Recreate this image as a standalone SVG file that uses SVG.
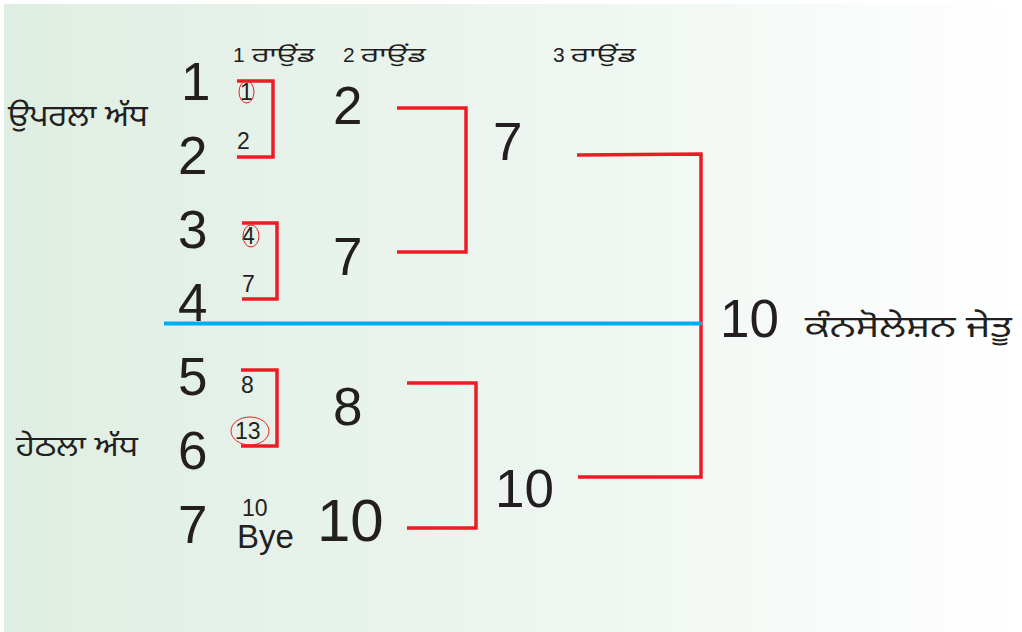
<svg xmlns="http://www.w3.org/2000/svg" width="1022" height="632" viewBox="0 0 1022 632">
<defs>
<linearGradient id="bg" x1="0" y1="0" x2="1" y2="0">
<stop offset="0" stop-color="#dfeee3"/>
<stop offset="0.5" stop-color="#ecf5ef"/>
<stop offset="1" stop-color="#ffffff"/>
</linearGradient>
<style>
text{font-family:"Liberation Sans","Noto Sans Gurmukhi","Noto Sans",sans-serif;fill:#231f20}
.big{font-size:53px}
.sm{font-size:23px}
.hd{font-size:21px}
.pa{font-family:"Noto Sans Gurmukhi","Lohit Gurmukhi","Noto Sans","Liberation Sans",sans-serif}
.br{fill:none;stroke:#ed1c24;stroke-width:3.5}
.ring{fill:none;stroke:#ed1c24;stroke-width:1}
</style>
</defs>
<rect x="0" y="0" width="1022" height="632" fill="#ffffff"/>
<rect x="4" y="4" width="1018" height="628" fill="url(#bg)"/>

<g id="headers">
<text x="233" y="62" class="hd">1</text>
<text x="252" y="62" class="hd pa" font-size="24" textLength="63" lengthAdjust="spacingAndGlyphs">ਰਾਉਂਡ</text>
<text x="343" y="62" class="hd">2</text>
<text x="361" y="62" class="hd pa" font-size="24" textLength="65" lengthAdjust="spacingAndGlyphs">ਰਾਉਂਡ</text>
<text x="553" y="62" class="hd">3</text>
<text x="571" y="62" class="hd pa" font-size="24" textLength="65" lengthAdjust="spacingAndGlyphs">ਰਾਉਂਡ</text>
</g>
<g id="halves">
<text x="8" y="126" class="pa" font-size="30" textLength="140" lengthAdjust="spacingAndGlyphs">ਉਪਰਲਾ  ਅੱਧ</text>
<text x="16" y="456" class="pa" font-size="28" textLength="122" lengthAdjust="spacingAndGlyphs">ਹੇਠਲਾ ਅੱਧ</text>
</g>
<g id="seeds">
<text x="181" y="100" class="big">1</text>
<text x="178" y="174" class="big">2</text>
<text x="178" y="248" class="big">3</text>
<text x="178" y="321" class="big">4</text>
<text x="178" y="395" class="big">5</text>
<text x="178" y="469" class="big">6</text>
<text x="178" y="543" class="big">7</text>
</g>
<g id="round1">
<text x="240" y="100" class="sm">1</text>
<ellipse cx="246.5" cy="92" rx="7.5" ry="11" class="ring"/>
<text x="237" y="149" class="sm">2</text>
<text x="242" y="244" class="sm">4</text>
<ellipse cx="251" cy="236" rx="8" ry="11" class="ring"/>
<text x="242" y="292" class="sm">7</text>
<text x="241" y="393" class="sm">8</text>
<text x="235" y="439" class="sm">13</text>
<ellipse cx="250" cy="431" rx="19" ry="14" class="ring"/>
<text x="242" y="516" class="sm">10</text>
<text x="237" y="548" font-size="33">Bye</text>
</g>
<g id="round2">
<text x="333" y="124" class="big">2</text>
<text x="333" y="275" class="big">7</text>
<text x="333" y="425" class="big">8</text>
<text x="317" y="541" font-size="60">10</text>
</g>
<g id="round3">
<text x="493" y="160" class="big">7</text>
<text x="495" y="507" class="big">10</text>
</g>
<g id="winner">
<text x="720" y="337" class="big">10</text>
<text x="805" y="337" class="pa" font-size="30" textLength="207" lengthAdjust="spacingAndGlyphs">ਕੰਨਸੋਲੇਸ਼ਨ  ਜੇਤੂ</text>
</g>
<g id="connectors">
<polyline points="237,81 273,81 273,157 237,157" class="br"/>
<polyline points="242,223 277,223 277,299 242,299" class="br"/>
<polyline points="241,370 277,370 277,446 241,446" class="br"/>
<polyline points="397,108 466,108 466,252 397,252" class="br"/>
<polyline points="407,383 476,383 476,528 407,528" class="br"/>
<polyline points="577,155 701,154 701,477 578,477" class="br"/>
<line x1="164" y1="323.5" x2="702" y2="323.5" stroke="#00aeef" stroke-width="4"/>
</g>
</svg>
